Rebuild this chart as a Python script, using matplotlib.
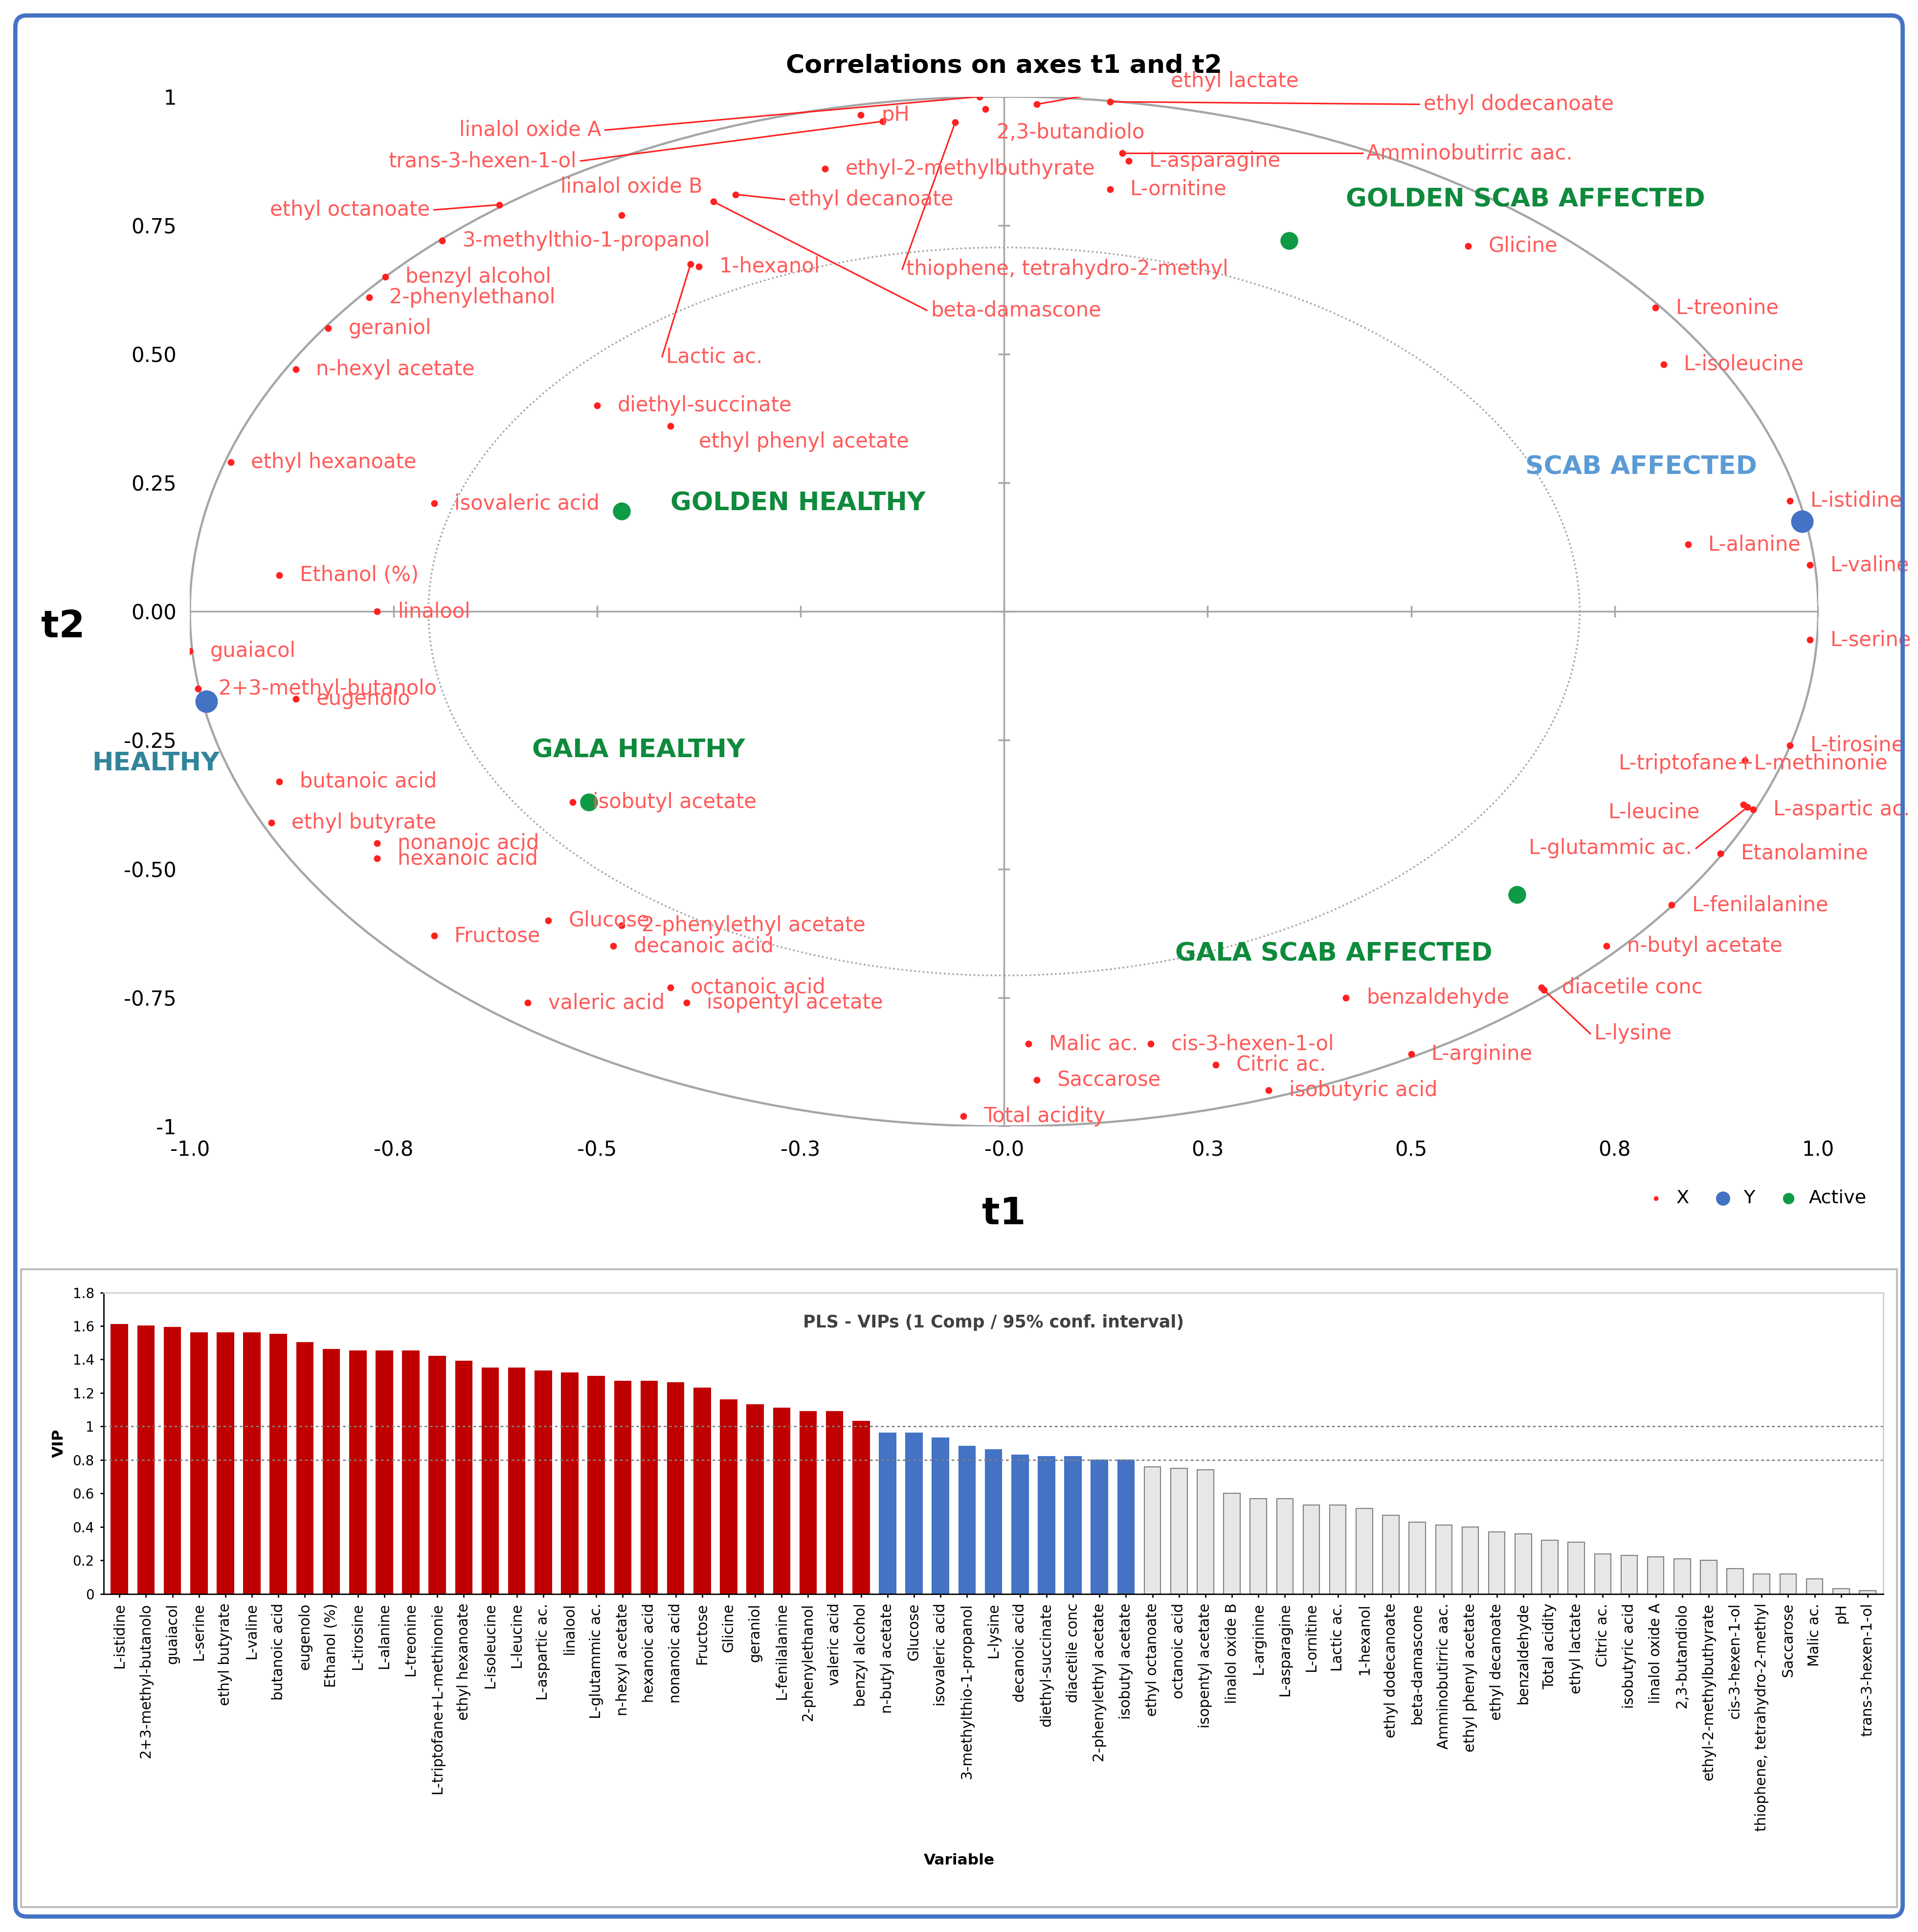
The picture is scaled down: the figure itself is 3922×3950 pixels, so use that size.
import matplotlib
matplotlib.use("Agg")
import matplotlib.pyplot as plt
from matplotlib.patches import Ellipse, Rectangle, FancyBboxPatch
import numpy as np

# ---- correlation circle data (t1, t2) ----
x_names = ["ethyl lactate", "ethyl dodecanoate", "linalol oxide A", "pH", "trans-3-hexen-1-ol",
           "2,3-butandiolo", "thiophene, tetrahydro-2-methyl", "Amminobutirric aac.", "L-asparagine",
           "ethyl-2-methylbuthyrate", "L-ornitine", "linalol oxide B", "beta-damascone",
           "ethyl decanoate", "ethyl octanoate", "3-methylthio-1-propanol", "benzyl alcohol",
           "2-phenylethanol", "1-hexanol", "Lactic ac.", "geraniol", "n-hexyl acetate", "Glicine",
           "L-treonine", "L-isoleucine", "diethyl-succinate", "ethyl phenyl acetate",
           "ethyl hexanoate", "isovaleric acid", "L-istidine", "L-alanine", "L-valine",
           "Ethanol (%)", "linalool", "L-serine", "guaiacol", "2+3-methyl-butanolo", "eugenolo",
           "L-tirosine", "L-triptofane+L-methinonie", "butanoic acid", "L-leucine",
           "L-aspartic ac.", "isobutyl acetate", "ethyl butyrate", "L-glutammic ac.",
           "Etanolamine", "nonanoic acid", "hexanoic acid", "L-fenilalanine", "Fructose",
           "Glucose", "2-phenylethyl acetate", "decanoic acid", "n-butyl acetate",
           "diacetile conc", "L-lysine", "benzaldehyde", "octanoic acid", "valeric acid",
           "isopentyl acetate", "Malic ac.", "cis-3-hexen-1-ol", "L-arginine", "Citric ac.",
           "Saccarose", "isobutyric acid", "Total acidity"]
x_t1 = [0.04, 0.13, -0.03, -0.176, -0.149, -0.023, -0.06, 0.145, 0.153, -0.22, 0.13, -0.47,
        -0.357, -0.33, -0.62, -0.69, -0.76, -0.78, -0.375, -0.385, -0.83, -0.87, 0.57, 0.80,
        0.81, -0.50, -0.41, -0.95, -0.70, 0.965, 0.84, 0.99, -0.89, -0.77, 0.99, -1.0, -0.99,
        -0.87, 0.965, 0.91, -0.89, 0.908, 0.92, -0.53, -0.90, 0.913, 0.88, -0.77, -0.77, 0.82,
        -0.70, -0.56, -0.47, -0.48, 0.74, 0.66, 0.663, 0.42, -0.41, -0.585, -0.39, 0.03, 0.18,
        0.50, 0.26, 0.04, 0.325, -0.05]
x_t2 = [0.985, 0.99, 1.0, 0.964, 0.952, 0.976, 0.95, 0.89, 0.875, 0.86, 0.82, 0.77, 0.796,
        0.81, 0.79, 0.72, 0.65, 0.61, 0.67, 0.675, 0.55, 0.47, 0.71, 0.59, 0.48, 0.40, 0.36,
        0.29, 0.21, 0.215, 0.13, 0.09, 0.07, 0.0, -0.055, -0.077, -0.15, -0.17, -0.26, -0.29,
        -0.33, -0.375, -0.385, -0.37, -0.41, -0.38, -0.47, -0.45, -0.48, -0.57, -0.63, -0.60,
        -0.61, -0.65, -0.65, -0.73, -0.735, -0.75, -0.73, -0.76, -0.76, -0.84, -0.84, -0.86,
        -0.88, -0.91, -0.93, -0.98]

y_names = ["HEALTHY", "SCAB AFFECTED"]
y_t1 = [-0.98, 0.98]
y_t2 = [-0.175, 0.175]

active_names = ["GOLDEN SCAB AFFECTED", "GOLDEN HEALTHY", "GALA HEALTHY", "GALA SCAB AFFECTED"]
active_t1 = [0.35, -0.47, -0.51, 0.63]
active_t2 = [0.72, 0.195, -0.37, -0.55]

# ---- VIP data ----
vip_names = ["L-istidine", "2+3-methyl-butanolo", "guaiacol", "L-serine", "ethyl butyrate",
             "L-valine", "butanoic acid", "eugenolo", "Ethanol (%)", "L-tirosine", "L-alanine",
             "L-treonine", "L-triptofane+L-methinonie", "ethyl hexanoate", "L-isoleucine",
             "L-leucine", "L-aspartic ac.", "linalool", "L-glutammic ac.", "n-hexyl acetate",
             "hexanoic acid", "nonanoic acid", "Fructose", "Glicine", "geraniol",
             "L-fenilalanine", "2-phenylethanol", "valeric acid", "benzyl alcohol",
             "n-butyl acetate", "Glucose", "isovaleric acid", "3-methylthio-1-propanol",
             "L-lysine", "decanoic acid", "diethyl-succinate", "diacetile conc",
             "2-phenylethyl acetate", "isobutyl acetate", "ethyl octanoate", "octanoic acid",
             "isopentyl acetate", "linalol oxide B", "L-arginine", "L-asparagine", "L-ornitine",
             "Lactic ac.", "1-hexanol", "ethyl dodecanoate", "beta-damascone",
             "Amminobutirric aac.", "ethyl phenyl acetate", "ethyl decanoate", "benzaldehyde",
             "Total acidity", "ethyl lactate", "Citric ac.", "isobutyric acid", "linalol oxide A",
             "2,3-butandiolo", "ethyl-2-methylbuthyrate", "cis-3-hexen-1-ol",
             "thiophene, tetrahydro-2-methyl", "Saccarose", "Malic ac.", "pH", "trans-3-hexen-1-ol"]
vip_values = [1.61, 1.60, 1.59, 1.56, 1.56, 1.56, 1.55, 1.50, 1.46, 1.45, 1.45, 1.45, 1.42,
              1.39, 1.35, 1.35, 1.33, 1.32, 1.30, 1.27, 1.27, 1.26, 1.23, 1.16, 1.13, 1.11,
              1.09, 1.09, 1.03, 0.96, 0.96, 0.93, 0.88, 0.86, 0.83, 0.82, 0.82, 0.80, 0.80,
              0.76, 0.75, 0.74, 0.60, 0.57, 0.57, 0.53, 0.53, 0.51, 0.47, 0.43, 0.41, 0.40,
              0.37, 0.36, 0.32, 0.31, 0.24, 0.23, 0.22, 0.21, 0.20, 0.15, 0.12, 0.12, 0.09,
              0.03, 0.02]

# label placements that use leader lines: name -> (t1, t2, ha, leader)
label_pos = {
    "ethyl lactate": (0.20, 1.03, "left", True),
    "ethyl dodecanoate": (0.51, 0.985, "left", True),
    "linalol oxide A": (-0.49, 0.935, "right", True),
    "trans-3-hexen-1-ol": (-0.52, 0.875, "right", True),
    "2,3-butandiolo": (-0.014, 0.93, "left", False),
    "thiophene, tetrahydro-2-methyl": (-0.125, 0.665, "left", True),
    "Amminobutirric aac.": (0.44, 0.89, "left", True),
    "linalol oxide B": (-0.55, 0.825, "left", False),
    "beta-damascone": (-0.095, 0.585, "left", True),
    "ethyl decanoate": (-0.27, 0.80, "left", True),
    "ethyl octanoate": (-0.70, 0.78, "right", True),
    "Lactic ac.": (-0.42, 0.495, "left", True),
    "ethyl phenyl acetate": (-0.38, 0.33, "left", False),
    "L-leucine": (0.86, -0.39, "right", False),
    "L-glutammic ac.": (0.85, -0.46, "right", True),
    "L-lysine": (0.72, -0.82, "left", True),
    "L-triptofane+L-methinonie": (0.75, -0.295, "left", False),
}

RED = "#ff2020"
LRED = "#ff5a5a"
GREEN = "#0e8a3c"

fig = plt.figure(figsize=(15.688, 15.8), dpi=250)
fig.patches.append(FancyBboxPatch((0.008, 0.008), 0.984, 0.984, boxstyle="round,pad=0,rounding_size=0.006",
                                  transform=fig.transFigure, fill=False, ec="#4472c4", lw=2.5))
fig.patches.append(Rectangle((0.011, 0.013), 0.978, 0.33, transform=fig.transFigure,
                             fill=False, ec="#bfbfbf", lw=1.2))

# ---------------- correlation circle ----------------
ax = fig.add_axes([0.099, 0.417, 0.849, 0.533])
ax.set_xlim(-1, 1)
ax.set_ylim(-1, 1)
for s in ax.spines.values():
    s.set_visible(False)
ax.add_patch(Ellipse((0, 0), 2, 2, fill=False, ec="#a6a6a6", lw=1.3))
ax.add_patch(Ellipse((0, 0), 1.414, 1.414, fill=False, ec="#a6a6a6", lw=1.0, ls=(0, (1, 1.5))))
ax.axhline(0, color="#a6a6a6", lw=1.0)
ax.axvline(0, color="#a6a6a6", lw=1.0)
tk = np.linspace(-1, 1, 9)
ax.plot(tk, np.zeros_like(tk), ls="none", marker="|", color="#a6a6a6", ms=7)
ax.plot(np.zeros_like(tk), tk, ls="none", marker="_", color="#a6a6a6", ms=7)

ax.set_xticks(tk)
ax.set_xticklabels(["-1.0", "-0.8", "-0.5", "-0.3", "-0.0", "0.3", "0.5", "0.8", "1.0"], fontsize=12)
ax.set_yticks(tk)
ax.set_yticklabels(["-1", "-0.75", "-0.50", "-0.25", "0.00", "0.25", "0.50", "0.75", "1"], fontsize=12)
ax.tick_params(length=0, pad=8)
ax.set_title("Correlations on axes t1 and t2", fontsize=15, fontweight="bold", pad=14)
ax.text(0.5, -0.085, "t1", transform=ax.transAxes, fontsize=22, fontweight="bold", ha="center", va="center")
ax.text(-0.078, 0.485, "t2", transform=ax.transAxes, fontsize=22, fontweight="bold", ha="center", va="center")

ax.scatter(x_t1, x_t2, s=9, color=RED, zorder=3, label="X")
ax.scatter(y_t1, y_t2, s=150, color="#4472c4", zorder=3, label="Y")
ax.scatter(active_t1, active_t2, s=90, color="#0f9a46", zorder=3, label="Active")

for name, a, b in zip(x_names, x_t1, x_t2):
    if name in label_pos:
        lx, ly, ha, leader = label_pos[name]
        if leader:
            ax.plot([a, lx], [b, ly], color=RED, lw=0.9, zorder=2)
        ax.text(lx + (0.005 if ha == "left" else -0.005), ly, name, color=LRED, fontsize=12,
                ha=ha, va="center")
    else:
        ax.text(a + 0.025, b, name, color=LRED, fontsize=12, ha="left", va="center")

grp_pos = {"GOLDEN SCAB AFFECTED": (0.42, 0.80), "GOLDEN HEALTHY": (-0.41, 0.21),
           "GALA HEALTHY": (-0.58, -0.27), "GALA SCAB AFFECTED": (0.21, -0.665)}
for name in active_names:
    gx, gy = grp_pos[name]
    ax.text(gx, gy, name, color=GREEN, fontsize=15, fontweight="bold", ha="left", va="center")
ax.text(0.64, 0.28, "SCAB AFFECTED", color="#5b9bd5", fontsize=15, fontweight="bold", va="center")
ax.text(-1.12, -0.295, "HEALTHY", color="#31849b", fontsize=15, fontweight="bold", va="center")

ax.legend(loc="upper right", bbox_to_anchor=(1.04, -0.045), ncol=3, frameon=False, fontsize=11,
          handletextpad=0.1, columnspacing=0.8, markerscale=0.6)

# ---------------- VIP bars ----------------
bx = fig.add_axes([0.054, 0.175, 0.928, 0.156])
cols = []
for v in vip_values:
    if v >= 1.0:
        cols.append("#c00000")
    elif v >= 0.79:
        cols.append("#4472c4")
    else:
        cols.append("#e7e7e7")
pos = np.arange(len(vip_names))
bx.bar(pos, vip_values, width=0.62, color=cols, edgecolor=["#7f7f7f" if c == "#e7e7e7" else c for c in cols],
       lw=0.6, zorder=2)
bx.axhline(1.0, color="#808080", lw=0.8, ls=(0, (2, 2)))
bx.axhline(0.8, color="#808080", lw=0.8, ls=(0, (2, 2)))
bx.set_xlim(-0.6, len(vip_names) - 0.4)
bx.set_ylim(0, 1.8)
bx.set_yticks(np.arange(0, 1.81, 0.2))
bx.set_yticklabels(["0", "0.2", "0.4", "0.6", "0.8", "1", "1.2", "1.4", "1.6", "1.8"], fontsize=8)
bx.set_xticks(pos)
bx.set_xticklabels(vip_names, rotation=90, fontsize=8.5)
bx.tick_params(length=2)
for s in ["top", "right"]:
    bx.spines[s].set_color("#d0d0d0")
bx.set_ylabel("VIP", fontsize=9, fontweight="bold")
bx.text(0.5, 0.9, "PLS - VIPs (1 Comp / 95% conf. interval)", transform=bx.transAxes,
        ha="center", va="center", fontsize=10, fontweight="bold", color="#404040")
fig.text(0.5, 0.035, "Variable", ha="center", fontsize=9, fontweight="bold")

fig.savefig("out.png", dpi=250)
